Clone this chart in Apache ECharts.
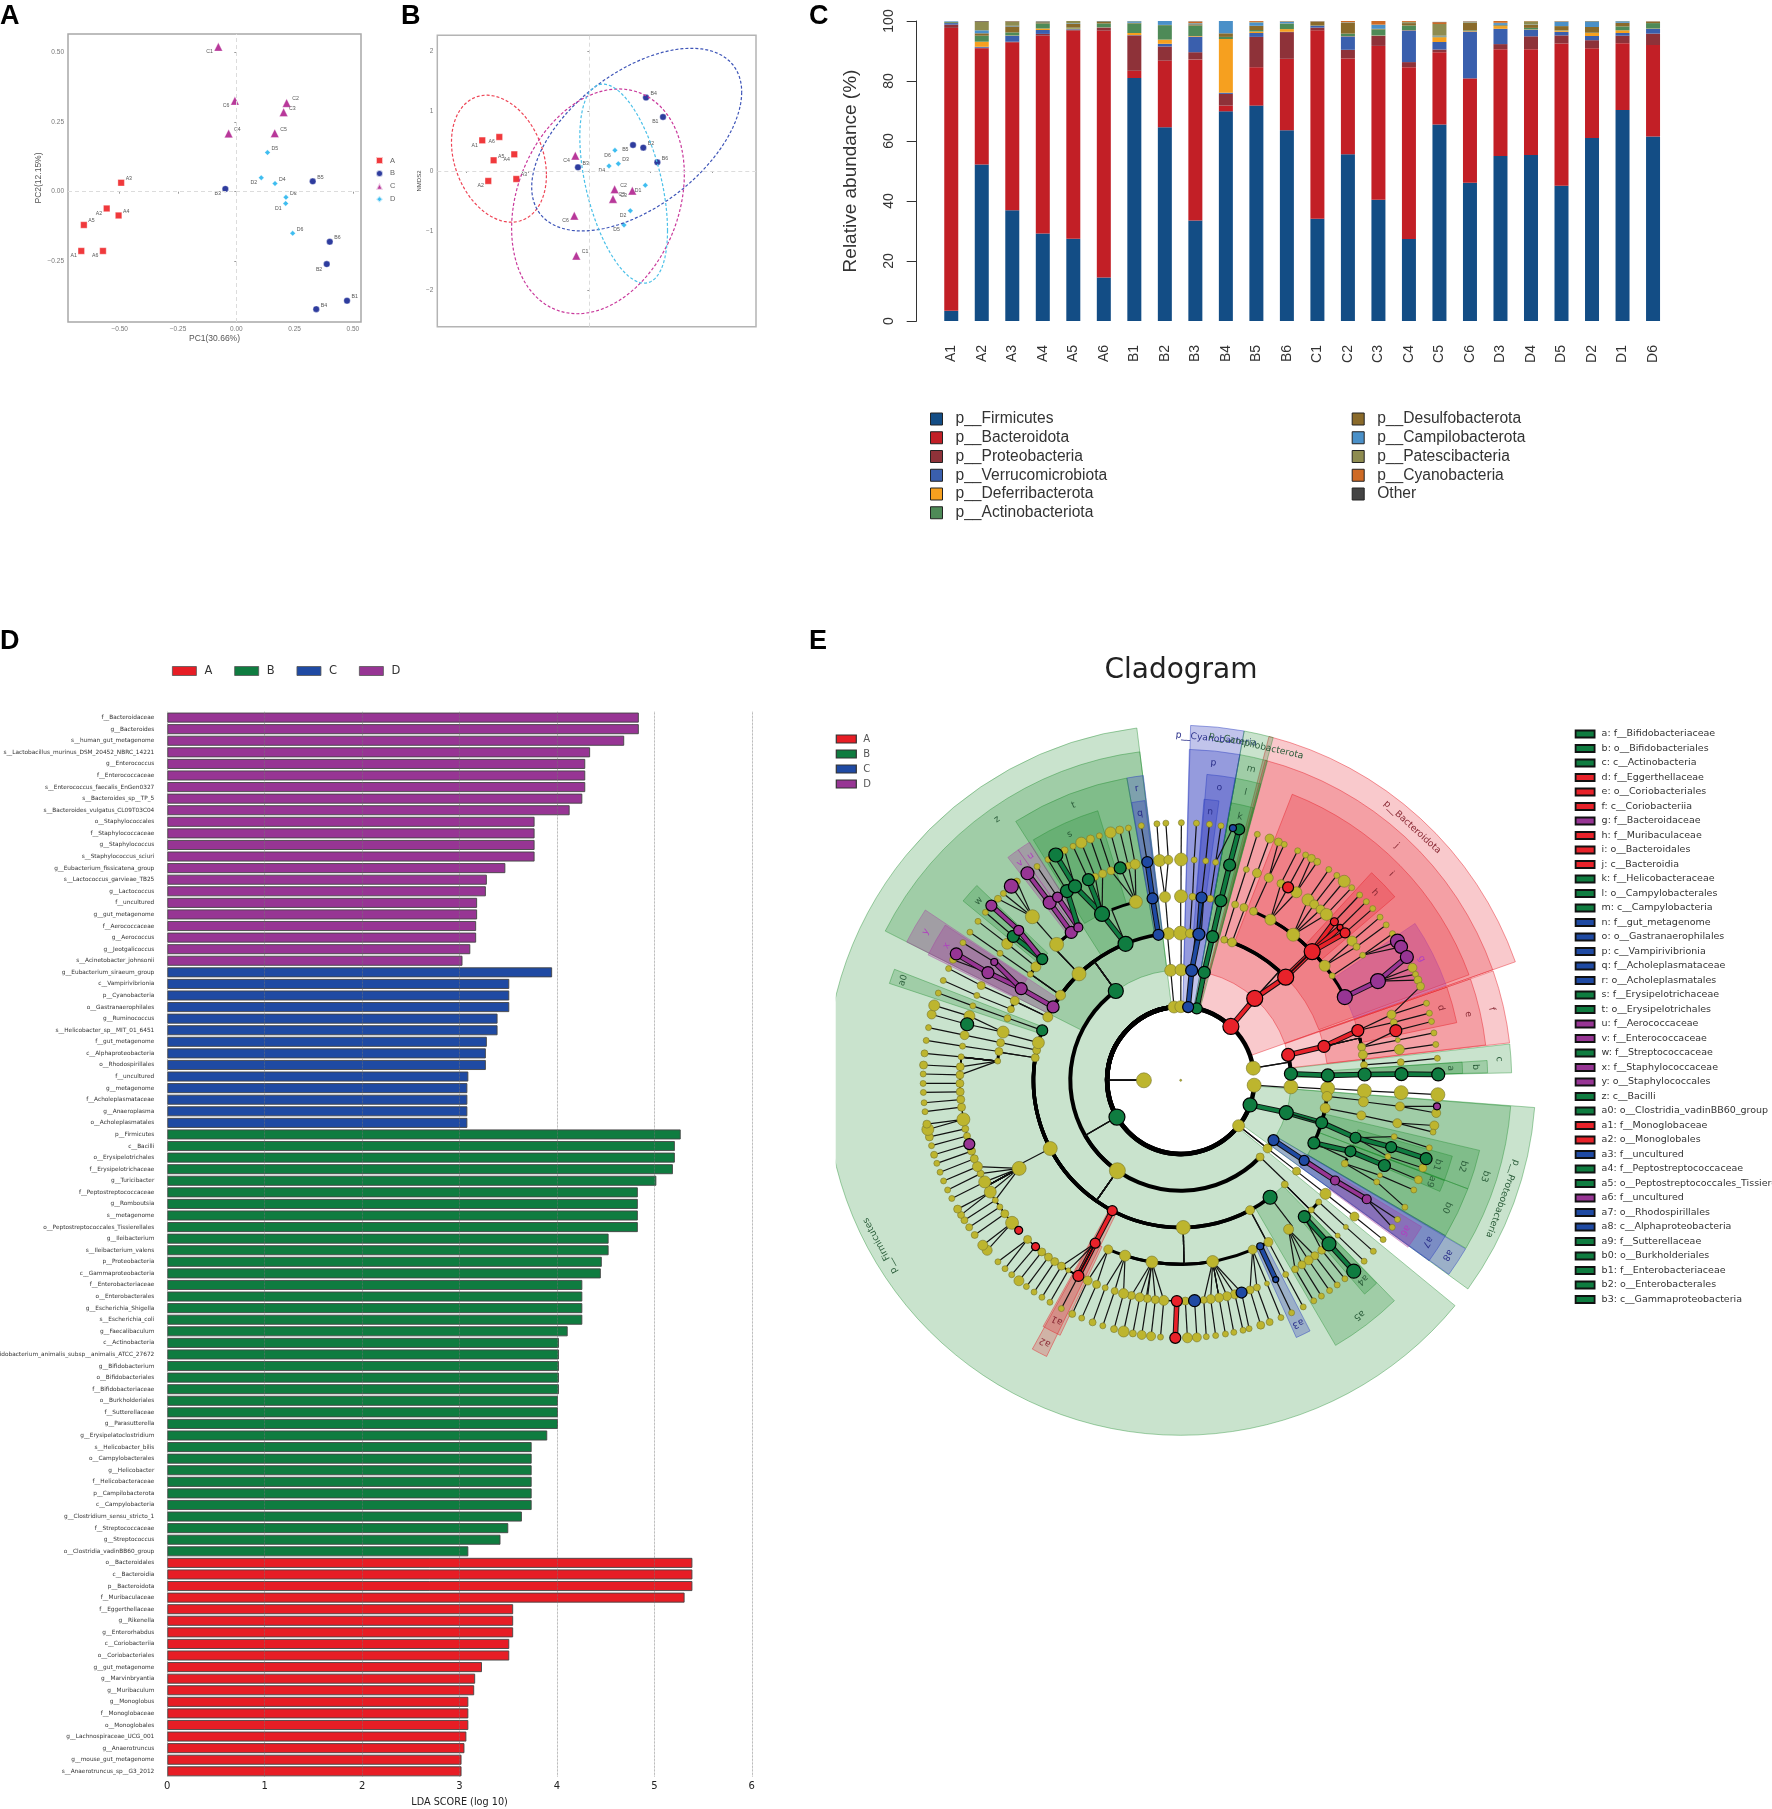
<!DOCTYPE html>
<html>
<head>
<meta charset="utf-8">
<title>Microbiome panels</title>
<script src="https://cdn.jsdelivr.net/npm/echarts@6/dist/echarts.min.js"></script>
<style>html,body{margin:0;padding:0;background:#fff}#chart{width:1772px;height:1809px}</style>
</head>
<body>
<div id="chart"></div>
<script>
// panel A, PCoA: [sample, PC1, PC2]
var pcoaA = [['A1',-.665,-.212],['A2',-.556,-.06],['A3',-.494,.032],['A4',-.505,-.085],['A5',-.654,-.119],['A6',-.572,-.212]];
var pcoaB = [['B1',.475,-.39],['B2',.388,-.259],['B3',-.047,.01],['B4',.343,-.42],['B5',.328,.037],['B6',.401,-.179]];
var pcoaC = [['C1',-.077,.518],['C2',.216,.317],['C3',.203,.284],['C4',-.033,.208],['C5',.165,.209],['C6',-.006,.325]];
var pcoaD = [['D1',.212,-.042],['D2',.107,.05],['D3',.213,-.02],['D4',.166,.029],['D5',.134,.14],['D6',.242,-.149]];
var pcoaLeftLabels = ['A1','A2','A6','B2','B3','C1','C6','D1','D2'];

// panel B, NMDS: [sample, NMDS1, NMDS2]
var nmdsA = [['A1',-1.745,.513],['A2',-1.647,-.167],['A3',-1.19,-.134],['A4',-1.223,.279],['A5',-1.56,.179],['A6',-1.467,.569]];
var nmdsB = [['B1',1.201,.904],['B2',.88,.391],['B3',-.185,.061],['B4',.924,1.228],['B5',.712,.435],['B6',1.109,.145]];
var nmdsC = [['C1',-.212,-1.417],['C2',.413,-.307],['C3',.701,-.329],['C4',-.228,.257],['C5',.386,-.469],['C6',-.245,-.748]];
var nmdsD = [['D1',.913,-.24],['D2',.668,-.664],['D3',.473,.123],['D4',.321,.084],['D5',.565,-.904],['D6',.418,.346]];
var nmdsLeftLabels = ['A1','A6','A4','A2','B1','B5','C4','C3','C6','D1','D2','D4','D5','D6'];
// ellipse: centre x, centre y, half width, half height, correlation
var ellipseA = [-1.473,.206,.774,1.063,-.26];
var ellipseB = [.772,.525,1.712,1.529,.52];
var ellipseC = [.141,-.508,1.408,1.881,.24];
var ellipseD = [.56,-.212,.715,1.666,-.47];

// panel C, relative abundance
var samples = ['A1','A2','A3','A4','A5','A6','B1','B2','B3','B4','B5','B6','C1','C2','C3','C4','C5','C6','D3','D4','D5','D2','D1','D6'];
var firmicutes = [3.4,52.2,36.9,29.2,27.4,14.5,81,64.6,33.5,69.9,71.8,63.6,34.1,55.6,40.4,27.3,65.5,46.1,55,55.3,45.1,61,70.3,61.5];
var bacteroidota = [94.3,38.7,56,65.9,69.4,82.3,2.4,22.2,53.7,1.9,12.8,23.8,62.8,31.9,51.3,57.3,24.1,34.7,35.6,35.3,47.4,29.9,22.3,30.5];
var proteobacteria = [1.1,.2,.2,.6,.3,1,11.8,4.7,2.4,3.9,10.1,8.9,.9,2.9,3.3,1.7,.9,.1,1.7,4.3,2.7,2.7,2.5,3.8];
var verrucomicrobiota = [.5,.3,2,1.3,.2,.05,.1,.9,5.2,.4,1.3,.1,.6,4.5,.1,10.6,2.5,15.6,5.1,2.2,1.2,1.4,.9,1.6];
var deferribacterota = [0,1.7,.1,.5,.2,.05,.7,1.4,.2,17.9,.5,.9,0,.1,.1,.1,1.6,.2,.9,.1,.4,1,.9,.1];
var actinobacteriota = [.3,2,1,1.7,.3,1.3,3.2,4.8,3.5,.7,.5,1.8,.1,.8,2,1.5,.2,.2,.2,.5,.1,.1,1.3,1.8];
var desulfobacterota = [.1,.8,2,.4,1.2,.7,.2,.1,.4,1.2,1.4,.1,1.3,3.6,.2,.8,.1,2.5,.2,1,1.4,1.9,1.2,.4];
var campilobacterota = [.2,1,.2,.2,.2,.1,.5,1.3,.3,4.1,1.1,.6,.1,.1,1.3,.1,.2,.1,.6,.1,1.5,1.8,.5,.1];
var patescibacteria = [0,2.8,1.4,.1,.8,.1,.1,0,.1,0,.2,.1,0,.1,.1,.3,3.9,.2,.1,1.1,.1,.1,.1,.1];
var cyanobacteria = [0,.1,.1,.05,.1,.1,0,0,.5,0,.4,.1,.1,.6,1.4,.5,.6,.1,.6,.1,.3,0,.1,.1];
var otherTaxa = [0,.2,.1,.1,.1,.1,0,0,.1,0,.1,.1,.1,.1,.1,.1,.1,.1,.1,.1,.1,.1,.1,.1];
var phylaNames = ['p__Firmicutes','p__Bacteroidota','p__Proteobacteria','p__Verrucomicrobiota','p__Deferribacterota','p__Actinobacteriota','p__Desulfobacterota','p__Campilobacterota','p__Patescibacteria','p__Cyanobacteria','Other'];
var phylaColors = ['#134d85','#c21f26','#8e3239','#3a5fad','#f6a01f','#4e8a57','#8a6a2a','#4a90c8','#8e8c50','#ce6a25','#444444'];
var phylaValues = [firmicutes,bacteroidota,proteobacteria,verrucomicrobiota,deferribacterota,actinobacteriota,desulfobacterota,campilobacterota,patescibacteria,cyanobacteria,otherTaxa];

// panel D, LDA scores
var ldaNamesD = ['f__Bacteroidaceae','g__Bacteroides','s__human_gut_metagenome','s__Lactobacillus_murinus_DSM_20452_NBRC_14221','g__Enterococcus','f__Enterococcaceae','s__Enterococcus_faecalis_EnGen0327','s__Bacteroides_sp__TP_5','s__Bacteroides_vulgatus_CL09T03C04','o__Staphylococcales','f__Staphylococcaceae','g__Staphylococcus','s__Staphylococcus_sciuri','g__Eubacterium_fissicatena_group','s__Lactococcus_garvieae_TB25','g__Lactococcus','f__uncultured','g__gut_metagenome','f__Aerococcaceae','g__Aerococcus','g__Jeotgalicoccus','s__Acinetobacter_johnsonii'];
var ldaScoresD = [4.84,4.84,4.69,4.34,4.29,4.29,4.29,4.26,4.13,3.77,3.77,3.77,3.77,3.47,3.28,3.27,3.18,3.18,3.17,3.17,3.11,3.03];
var ldaNamesC = ['g__Eubacterium_siraeum_group','c__Vampirivibrionia','p__Cyanobacteria','o__Gastranaerophilales','g__Ruminococcus','s__Helicobacter_sp__MIT_01_6451','f__gut_metagenome','c__Alphaproteobacteria','o__Rhodospirillales','f__uncultured','g__metagenome','f__Acholeplasmataceae','g__Anaeroplasma','o__Acholeplasmatales'];
var ldaScoresC = [3.95,3.51,3.51,3.51,3.39,3.39,3.28,3.27,3.27,3.09,3.08,3.08,3.08,3.08];
var ldaNamesB = ['p__Firmicutes','c__Bacilli','o__Erysipelotrichales','f__Erysipelotrichaceae','g__Turicibacter','f__Peptostreptococcaceae','g__Romboutsia','s__metagenome','o__Peptostreptococcales_Tissierellales','g__Ileibacterium','s__Ileibacterium_valens','p__Proteobacteria','c__Gammaproteobacteria','f__Enterobacteriaceae','o__Enterobacterales','g__Escherichia_Shigella','s__Escherichia_coli','g__Faecalibaculum','c__Actinobacteria','s__Bifidobacterium_animalis_subsp__animalis_ATCC_27672','g__Bifidobacterium','o__Bifidobacteriales','f__Bifidobacteriaceae','o__Burkholderiales','f__Sutterellaceae','g__Parasutterella','g__Erysipelatoclostridium','s__Helicobacter_bilis','o__Campylobacterales','g__Helicobacter','f__Helicobacteraceae','p__Campilobacterota','c__Campylobacteria','g__Clostridium_sensu_stricto_1','f__Streptococcaceae','g__Streptococcus','o__Clostridia_vadinBB60_group'];
var ldaScoresB = [5.27,5.21,5.21,5.19,5.02,4.83,4.83,4.83,4.83,4.53,4.53,4.46,4.45,4.26,4.26,4.26,4.26,4.11,4.02,4.02,4.02,4.02,4.02,4.01,4.01,4.01,3.9,3.74,3.74,3.74,3.74,3.74,3.74,3.64,3.5,3.42,3.09];
var ldaNamesA = ['o__Bacteroidales','c__Bacteroidia','p__Bacteroidota','f__Muribaculaceae','f__Eggerthellaceae','g__Rikenella','g__Enterorhabdus','c__Coriobacteriia','o__Coriobacteriales','g__gut_metagenome','g__Marvinbryantia','g__Muribaculum','g__Monoglobus','f__Monoglobaceae','o__Monoglobales','g__Lachnospiraceae_UCG_001','g__Anaerotruncus','g__mouse_gut_metagenome','s__Anaerotruncus_sp__G3_2012'];
var ldaScoresA = [5.39,5.39,5.39,5.31,3.55,3.55,3.55,3.51,3.51,3.23,3.16,3.15,3.09,3.09,3.09,3.07,3.05,3.02,3.02];

// panel E, cladogram legend and highlighted clades (angles clockwise from the top, degrees)
var cladeNames = ['a: f__Bifidobacteriaceae','b: o__Bifidobacteriales','c: c__Actinobacteria','d: f__Eggerthellaceae','e: o__Coriobacteriales','f: c__Coriobacteriia','g: f__Bacteroidaceae','h: f__Muribaculaceae','i: o__Bacteroidales','j: c__Bacteroidia','k: f__Helicobacteraceae','l: o__Campylobacterales','m: c__Campylobacteria','n: f__gut_metagenome','o: o__Gastranaerophilales','p: c__Vampirivibrionia','q: f__Acholeplasmataceae','r: o__Acholeplasmatales','s: f__Erysipelotrichaceae','t: o__Erysipelotrichales','u: f__Aerococcaceae','v: f__Enterococcaceae','w: f__Streptococcaceae','x: f__Staphylococcaceae','y: o__Staphylococcales','z: c__Bacilli','a0: o__Clostridia_vadinBB60_group','a1: f__Monoglobaceae','a2: o__Monoglobales','a3: f__uncultured','a4: f__Peptostreptococcaceae','a5: o__Peptostreptococcales_Tissierellales','a6: f__uncultured','a7: o__Rhodospirillales','a8: c__Alphaproteobacteria','a9: f__Sutterellaceae','b0: o__Burkholderiales','b1: f__Enterobacteriaceae','b2: o__Enterobacterales','b3: c__Gammaproteobacteria'];
var cladeGroups = 'g g g r r r p r r r g g g b b b b b g g p p g p p g g r r b g g p b b g g g g g'.split(' ');
var cladeStart = [86.3,86.3,83.7,70.7,70.7,70.7,56.2,42.6,21.3,14.8,10.3,10.3,10.3,4.75,4.9,1.5,350,349.9,328.5,327.5,324.8,322.2,309.5,296.4,296.8,296.8,288.4,205.3,205.9,152.7,136,135.9,121.3,120.4,120.6,110.8,110.7,105.6,103.2,94.5];
var cladeEnd = [88.6,88.6,88.7,78.2,83.4,83.5,70.3,49.4,69.9,70.5,15,15.1,15.2,7.8,10.2,10.3,352.7,353,342.9,349.9,327.6,324.8,313.7,303.4,303.7,352.9,291.2,209.2,208.9,155.8,139.3,149.7,126.3,126,125.9,113.2,120.4,110.8,110.7,120.5];
var phylumNames = ['p__Firmicutes','p__Bacteroidota','p__Proteobacteria','p__Cyanobacteria','p__Campilobacterota'];
var phylumGroups = ['g','r','g','b','g'];
var phylumStart = [129.4,14.4,94.4,1.6,10.3];
var phylumEnd = [352.9,70.5,126,10.3,15.1];

// tree nodes per level: [angle, diameter, group (default y), parent angle (default nearest)]
var level1 = [[270,15]];
var level2 = [[354.8,12],[.1,12],[5.8,11,'b'],[12.6,11,'g'],[43,16,'r'],[80.5,14],[93.8,14],[109.5,14,'g'],[128.1,12],[240,16,'g']];
var level3 = [[354.8,12],[.2,12],[5.7,12,'b'],[12.3,12,'g'],[42.1,16,'r'],[76.7,13,'r'],[86.6,13,'g'],[93.4,14],[107,14,'g'],[122.8,11,'b'],[128.1,9],[134,8,'',240],[215,16,'',240],[324,15,'g',240]];
var level4 = [[351.3,11,'b',324],[355.2,12],[0,14],[3.6,9],[7.1,12,'b'],[12.5,12,'g'],[17.2,7,'',42.1],[20.4,9,'',42.1],[45.5,16,'r'],[76.7,12,'r'],[88.1,13,'g'],[93.2,14],[96.3,10,'',107],[100.9,10,'',107],[106.7,12,'g'],[115.2,12,'g',107],[123,10,'b'],[128.1,8],[135,7,'',134],[142.6,14,'g',215],[151.9,9,'',215],[179,14,'',215],[207.7,10,'r',215],[242.4,14,'',215],[278.8,8,'',215],[281.8,8,'',215],[284.8,12,'',215],[289.8,11,'g',215],[295.5,10,'',324],[299.9,12,'p',324],[305.3,10,'',324],[316.3,14,'',324],[338,15,'g',324]];
var level5 = [[351.2,11,'b'],[355.1,11],[.1,13],[3.7,7],[6.5,11,'b'],[9.2,7,'',7.1],[12.6,12,'g'],[17.2,7],[20.1,8],[23.3,8,'',45.5],[29.2,11,'',45.5],[37.7,13,'',45.5],[45.6,16,'r'],[51.5,11,'',45.5],[55.4,6,'',45.5],[63.1,15,'p',45.5],[74.3,12,'r'],[79.6,8],[82,9],[85.2,7,'',76.7],[88.2,13,'g'],[93.3,14],[96.7,10],[101,9],[108.2,11,'g'],[112.7,11,'g'],[116.9,7],[123,9,'p'],[128.1,11],[131.4,6,'',135],[134.8,6],[137.8,12,'g'],[144.1,10],[151.5,9],[154.4,7,'b',151.9],[157,9,'',179],[170,12],[189,12],[197.6,11,'',179],[203.2,9,'',179],[207.7,10,'r'],[241.4,14],[276,6],[279,8],[281.8,8],[285.2,12],[289.7,7],[292.7,7],[295.6,9],[299.9,12,'p'],[305.2,6],[308.1,10],[311.2,11,'g',305.3],[317.6,14],[323.5,12,'p',316.3],[326.2,9,'p',316.3],[334.7,15,'g'],[345.9,13,'',338]];
var level6 = [[351.3,11,'b'],[354.5,12],[356.8,9],[.1,13],[3.5,6],[6.5,6],[9.1,6],[12.8,12,'g'],[17.3,6],[20.2,9],[23.5,9],[27,8],[29.1,11,'r'],[31.6,11],[35.2,12],[37.2,9],[39.3,9],[41.3,12],[44.1,8,'r'],[46.2,6,'r'],[48.1,10,'r'],[50.9,10],[52.8,7],[55.5,6],[63.3,15,'p'],[72.7,9],[74.8,7],[77,12,'r'],[79.5,5],[82,10],[85.3,7],[88.4,13,'g'],[93.2,14],[96.8,9],[101.2,9],[104.8,6],[107.6,11,'g'],[110.2,6],[112.7,12,'g'],[115.5,5],[117.4,6],[122.6,9,'p'],[128.1,9],[131.6,5],[134.7,5],[137.8,14,'g'],[140.3,8],[142.6,8],[144.6,9],[146.7,8],[148.8,7,'',144.1],[151.6,6],[154.5,6,'b'],[157,5],[159.8,7],[161.7,8],[164,11,'b'],[165.8,9],[167.9,9],[170,9],[172.2,9],[174,7],[176.4,12,'b'],[178.8,8],[181,11,'r'],[184.4,10],[186.6,8],[188.7,8],[190.7,9],[192.9,8],[195,10],[197.4,7],[200,6],[202.4,8],[204.9,9],[207.6,11,'r'],[210.6,5],[212.7,8],[214.8,8],[216.8,8],[219,8],[221.1,8,'r'],[223.9,8],[227.2,8,'r'],[229.8,13],[232.8,8],[235,6],[237.1,6],[239.6,12],[242.6,12],[245,7],[247,10],[249.2,8],[251.3,8],[253.2,11,'p'],[255.4,7],[257.3,7],[259.8,13],[263,8],[265,8],[267,8],[269.2,8],[271.4,8],[273.5,8],[276.1,6],[278.9,6],[281.8,9],[284.7,13,'g'],[286.9,11],[289.7,6],[292.6,6],[295.4,8],[299.2,12,'p'],[302.4,7,'p'],[305.1,6],[308.2,11],[310.7,12,'g'],[312.8,10,'p'],[317.8,14],[323.6,13,'p'],[326.1,10,'p'],[329,13,'g'],[331.4,13,'g'],[335.3,12,'g'],[337.2,7],[339.3,8],[341.6,8],[344.1,12,'g'],[346.3,7],[348.1,10]];
var level7 = [[351.2,6],[354.7,6],[356.7,6],[.15,6],[3.5,6],[6.4,6],[9,6],[11.7,7,'b',9.1],[13.1,11,'g'],[17.3,6],[20.2,9],[22.3,8],[23.7,6],[27,6],[29,6],[30.5,8],[32,7],[35.1,6],[37.3,6],[39.4,12],[41.6,6],[44,6],[46.1,6],[48.2,6],[50.7,6],[52.9,6],[55.3,6],[57.3,14,'p'],[58.8,13,'p'],[61.4,13,'p'],[64.1,9],[65.7,6],[67.1,8],[68.6,8],[72.6,6],[74.9,6],[76.8,6],[79.4,6],[82,6],[85.1,6],[88.7,13,'g'],[93.2,14],[95.8,7,'p'],[97.3,9],[100.1,9],[101.6,6],[105.2,6],[107.7,12,'g'],[109.9,8],[112.7,8],[115.2,6],[119.5,6],[122.7,6],[124.8,6],[128.2,6],[131.6,6],[134.6,6],[137.8,14,'g'],[140.4,6],[142.6,6],[144.7,6],[146.9,6],[148.9,6],[151.6,6],[154.5,6],[157.1,6],[159.8,7],[161.9,8],[164.6,6],[166,6],[168.1,6],[170,6],[172.2,6],[174.3,6],[176.4,9],[178.5,10],[181.2,11,'r'],[184.5,6],[186.6,9],[188.7,9],[190.7,7],[192.8,11],[195,7],[197.6,6],[200,7],[202.6,6],[204.9,7],[207.6,6],[210.5,6],[212.6,6],[214.7,6],[216.8,6],[218.9,10],[221,6],[223,6],[225.2,6],[228.7,10],[230.2,10],[233.1,7],[235.2,7],[237.1,7],[238.5,7],[240,8],[242.7,6],[244.8,6],[247,6],[249.1,6],[251.2,6],[253.2,7],[255.3,6],[257.3,8],[259,12],[260.2,8],[263,6],[265,6],[267.3,6],[269.3,6],[271.4,6],[273.4,8],[276,7],[278.9,6],[281.8,6],[284.8,9],[286.9,11],[289.8,6],[292.8,6],[295.7,6],[297.9,7],[299.4,12,'p'],[302.3,6],[305.1,6],[308.1,6],[310.7,6],[312.7,11,'p'],[314.8,7,'',317.8],[316.5,6],[318.9,14,'p'],[320.5,7,'',317.8],[323.5,13,'p'],[326.1,6],[329,6],[331,14,'g'],[333.2,7],[335.3,6],[337.3,11],[339.5,8],[341.6,6],[344.2,11],[346.3,8],[348.3,6]];

var sans = '"Liberation Sans", Arial, sans-serif';
var deja = '"DejaVu Sans", sans-serif';
var groupColor = {A:'#f0393c',B:'#2e3c9e',C:'#b8389a',D:'#3ebdf0'};
var ldaColor = {A:'#e71d25',B:'#0f7c40',C:'#1f4aa3',D:'#973594'};
var nodeColor = {y:'#bdb52e',r:'#e8222a',g:'#0f7c40',b:'#1f4aa3',p:'#973594'};
var wedgeColor = {r:'rgba(230,30,40,.24)',g:'rgba(30,140,45,.24)',b:'rgba(50,60,190,.3)',p:'rgba(165,50,160,.3)'};
var wedgeEdge = {r:'rgba(230,30,40,.45)',g:'rgba(30,140,45,.4)',b:'rgba(40,60,190,.45)',p:'rgba(165,50,160,.35)'};
var wedgeText = {r:'#8a2a35',g:'#2b5d3a',b:'#2a2f8a',p:'#b040c0'};
var ringRadius = [0,36.8,73.6,110.4,147.2,184,220.8,257.6];
var wedgeRange = {p:[73.6,355],c:[110.4,331],o:[147.2,307],f:[184,282]};
var wedgeOrder = {p:0,c:1,o:2,f:3};
var levels = [null,level1,level2,level3,level4,level5,level6,level7];

var series = [];

// scatter panels
function scatterSeries(name, rows, symbol, size, gridIdx, leftLabels, zero) {
    var s = {
        name: name, type: 'scatter', xAxisIndex: gridIdx, yAxisIndex: gridIdx,
        symbol: symbol, symbolSize: size,
        itemStyle: {color: groupColor[name], borderColor: 'rgba(255,255,255,.7)', borderWidth: .5, opacity: 1},
        data: rows.map(function (r) {
            var left = leftLabels.indexOf(r[0]) >= 0;
            return {
                value: [r[1], r[2]], name: r[0],
                label: {show: true, formatter: r[0], position: left ? 'left' : 'right', offset: [0, left ? 5 : -4], fontSize: 5.2, color: '#555', fontFamily: sans, distance: 1}
            };
        })
    };
    if (zero) {
        s.markLine = {silent: true, symbol: 'none', animation: false, label: {show: false},
            lineStyle: {type: [4, 3], color: '#dcdcdc', width: 1}, data: [{xAxis: 0}, {yAxis: 0}]};
    }
    return s;
}
series.push(scatterSeries('A', pcoaA, 'rect', 6.5, 0, pcoaLeftLabels, true));
series.push(scatterSeries('B', pcoaB, 'circle', 6.5, 0, pcoaLeftLabels));
series.push(scatterSeries('C', pcoaC, 'triangle', 8.5, 0, pcoaLeftLabels));
series.push(scatterSeries('D', pcoaD, 'diamond', 5.5, 0, pcoaLeftLabels));
series.push(scatterSeries('A', nmdsA, 'rect', 6.5, 1, nmdsLeftLabels, true));
series.push(scatterSeries('B', nmdsB, 'circle', 6.5, 1, nmdsLeftLabels));
series.push(scatterSeries('C', nmdsC, 'triangle', 8.5, 1, nmdsLeftLabels));
series.push(scatterSeries('D', nmdsD, 'diamond', 5.5, 1, nmdsLeftLabels));

// group ellipses of panel B
series.push({
    type: 'custom', name: 'ellipses', xAxisIndex: 1, yAxisIndex: 1, silent: true, z: 3,
    data: [ellipseA.concat(0), ellipseB.concat(1), ellipseC.concat(2), ellipseD.concat(3)],
    renderItem: function (params, api) {
        var cx = api.value(0), cy = api.value(1), w = api.value(2), h = api.value(3);
        var phi = Math.acos(api.value(4));
        var pts = [];
        for (var i = 0; i <= 90; i++) {
            var t = i / 90 * Math.PI * 2;
            pts.push(api.coord([cx + w * Math.cos(t), cy + h * Math.cos(t + phi)]));
        }
        return {type: 'polyline', shape: {points: pts}, style: {
            fill: 'none', stroke: ['#ee4455', '#3e55b8', '#c9389b', '#4bc0e8'][api.value(5)], lineWidth: 1.2, lineDash: [3, 2]}};
    }
});

// stacked bars of panel C
phylaNames.forEach(function (n, i) {
    series.push({name: n, type: 'bar', stack: 'abund', xAxisIndex: 2, yAxisIndex: 2, barWidth: 14,
        itemStyle: {color: phylaColors[i]}, data: phylaValues[i]});
});

// LDA bars of panel D
var ldaCats = ldaNamesD.concat(ldaNamesC, ldaNamesB, ldaNamesA);
var ldaGroups = [['D', ldaScoresD], ['C', ldaScoresC], ['B', ldaScoresB], ['A', ldaScoresA]];
var ldaOffset = 0;
ldaGroups.forEach(function (g) {
    var vals = ldaCats.map(function () { return '-'; });
    g[1].forEach(function (v, i) { vals[ldaOffset + i] = v; });
    ldaOffset += g[1].length;
    series.push({name: g[0], type: 'bar', stack: 'lda', xAxisIndex: 3, yAxisIndex: 3, barWidth: 10,
        itemStyle: {color: ldaColor[g[0]], borderColor: '#444', borderWidth: .9}, data: vals, z: 2});
});

// clade wedges of panel E
function wedgeRender(params, api) {
    var c = api.coord([0, 0]), inner = api.value(0), outer = api.value(1), a0 = api.value(2), a1 = api.value(3);
    var w = cladeWedges[params.seriesIndex - wedgeBase], g = w.group;
    var mid = (a0 + a1) / 2, lp = api.coord([outer - 12, mid]);
    var po = api.coord([outer, 0]), pi = api.coord([inner, 0]);
    return {type: 'group', children: [
        {type: 'sector', shape: {cx: c[0], cy: c[1], r: Math.abs(c[1] - po[1]), r0: Math.abs(c[1] - pi[1]),
            startAngle: (a0 - 90) * Math.PI / 180, endAngle: (a1 - 90) * Math.PI / 180, clockwise: true},
            style: {fill: wedgeColor[g], stroke: wedgeEdge[g], lineWidth: 1}},
        {type: 'text', x: lp[0], y: lp[1], rotation: -mid * Math.PI / 180,
            style: {text: w.label, fill: wedgeText[g], fontSize: 9.2, fontFamily: deja, align: 'center', verticalAlign: 'middle'}}
    ]};
}
var cladeWedges = [];
phylumNames.forEach(function (n, i) {
    cladeWedges.push({name: n, label: n, group: phylumGroups[i], rank: 'p', start: phylumStart[i], end: phylumEnd[i]});
});
cladeNames.forEach(function (n, i) {
    var parts = n.split(': ');
    cladeWedges.push({name: n, label: parts[0], group: cladeGroups[i], rank: parts[1].charAt(0), start: cladeStart[i], end: cladeEnd[i]});
});
cladeWedges.sort(function (a, b) { return wedgeOrder[a.rank] - wedgeOrder[b.rank]; });
var wedgeBase = series.length;
cladeWedges.forEach(function (w) {
    var range = wedgeRange[w.rank];
    series.push({name: w.name, type: 'custom', coordinateSystem: 'polar', silent: true, clip: false, z: 3,
        encode: {radius: 0, angle: 2}, data: [[range[0], range[1], w.start, w.end]], renderItem: wedgeRender});
});

// tree edges, parent taken as nearest node one ring inwards unless the node names one
function angDiff(a, b) { return ((b - a + 540) % 360) - 180; }
function findParent(node, lvl) {
    var list = levels[lvl - 1], want = node[3] !== undefined ? node[3] : node[0], best = list[0], bd = 999;
    list.forEach(function (p) {
        var d = Math.abs(angDiff(p[0], want));
        if (d < bd) { bd = d; best = p; }
    });
    return best;
}
var edgeRows = [];
var arcWidth = [0, 0, 4.5, 4, 3.5, 3, 1.4, 1.2];
for (var lv = 2; lv <= 7; lv++) {
    levels[lv].forEach(function (n) {
        var p = findParent(n, lv), d = angDiff(p[0], n[0]);
        var coloured = n[2] && p[2] && Math.abs(d) < 6.5 ? Object.keys(nodeColor).indexOf(n[2]) : -1;
        var straight = coloured >= 0 || lv === 7 || (lv === 6 && Math.abs(d) <= 6);
        edgeRows.push([ringRadius[lv - 1], p[0], ringRadius[lv], n[0], lv, coloured, straight ? 1 : 0]);
    });
}
series.push({
    type: 'custom', name: 'tree edges', coordinateSystem: 'polar', silent: true, clip: false, z: 4,
    encode: {radius: 0, angle: 1}, data: edgeRows,
    renderItem: function (params, api) {
        var rp = api.value(0), ap = api.value(1), rc = api.value(2), ac = api.value(3), lv = api.value(4), col = api.value(5), straight = api.value(6);
        var c = api.coord([0, 0]), a = api.coord([rp, ap]), b = api.coord([rc, ac]);
        var kids = [];
        if (col >= 0) {
            var fill = nodeColor[Object.keys(nodeColor)[col]];
            kids.push({type: 'line', shape: {x1: a[0], y1: a[1], x2: b[0], y2: b[1]}, style: {stroke: '#111', lineWidth: 5.6}});
            kids.push({type: 'line', shape: {x1: a[0], y1: a[1], x2: b[0], y2: b[1]}, style: {stroke: fill, lineWidth: 3.6}});
        } else if (straight) {
            kids.push({type: 'line', shape: {x1: a[0], y1: a[1], x2: b[0], y2: b[1]}, style: {stroke: '#111', lineWidth: 1.2}});
        } else {
            var e = api.coord([rc, ap]), d = angDiff(ap, ac);
            var r = Math.abs(c[1] - api.coord([rc, 0])[1]);
            var s = d >= 0 ? ap : ap + d, t = d >= 0 ? ap + d : ap;
            kids.push({type: 'line', shape: {x1: a[0], y1: a[1], x2: e[0], y2: e[1]}, style: {stroke: '#111', lineWidth: 1.2}});
            kids.push({type: 'arc', shape: {cx: c[0], cy: c[1], r: r, startAngle: (s - 90) * Math.PI / 180, endAngle: (t - 90) * Math.PI / 180, clockwise: true},
                style: {fill: 'none', stroke: '#000', lineWidth: arcWidth[lv]}});
        }
        return {type: 'group', children: kids};
    }
});

// tree nodes, one scatter per group
['y', 'g', 'r', 'b', 'p'].forEach(function (key) {
    var rows = [];
    for (var lv = 1; lv <= 7; lv++) {
        levels[lv].forEach(function (n) {
            if ((n[2] || 'y') === key) rows.push([ringRadius[lv], n[0], n[1]]);
        });
    }
    if (key === 'y') rows.push([0, 0, 2]);
    series.push({
        type: 'scatter', name: 'nodes ' + key, coordinateSystem: 'polar', silent: true, z: 5, clip: false,
        symbolSize: function (v) { return v[2]; },
        itemStyle: {color: nodeColor[key], borderColor: key === 'y' ? '#77762c' : '#000', borderWidth: key === 'y' ? .6 : 1.2, opacity: 1},
        data: rows
    });
});

var pcoaXTicks = [-.5, -.25, 0, .25, .5];
var pcoaYTicks = [-.25, 0, .25, .5];
var nmdsXTicks = [-2, -1, 0, 1, 2];
var nmdsYTicks = [-2, -1, 0, 1, 2];
function fmt2(v) { return v.toFixed(2).replace('-', '\u2212'); }
function fmt0(v) { return String(v).replace('-', '\u2212'); }
var grayAxisLine = {show: false};
function lightLabel(f) { return {fontSize: 6.5, color: '#777', fontFamily: sans, margin: 4, formatter: f}; }

var option = {
    animation: false,
    backgroundColor: '#fff',
    title: [
        {text: 'A', left: 0, top: 3},
        {text: 'B', left: 401, top: 3},
        {text: 'C', left: 809, top: 3},
        {text: 'D', left: 0, top: 628},
        {text: 'E', left: 809, top: 628},
        {text: 'Cladogram', left: 1181, top: 657, textAlign: 'center', textStyle: {fontFamily: deja, fontWeight: 'normal', fontSize: 28, color: '#222'}}
    ].map(function (t) {
        t.padding = 0;
        t.textStyle = t.textStyle || {fontFamily: sans, fontWeight: 'bold', fontSize: 27, color: '#000'};
        return t;
    }),
    grid: [
        {left: 68, top: 34, width: 293, height: 288, show: true, borderColor: '#a8a8a8', borderWidth: 1.5, outerBoundsMode: 'none'},
        {left: 437.3, top: 35.3, width: 318.7, height: 291.4, show: true, borderColor: '#b4b4b4', borderWidth: 1.5, outerBoundsMode: 'none'},
        {left: 936, top: 21, width: 732.3, height: 300, outerBoundsMode: 'none'},
        {left: 167.3, top: 711.8, width: 584.5, height: 1065.3, outerBoundsMode: 'none'}
    ],
    xAxis: [
        {gridIndex: 0, type: 'value', min: -.722, max: .535, name: 'PC1(30.66%)', nameLocation: 'middle', nameGap: 10.5,
            nameTextStyle: {fontSize: 8.5, color: '#555', fontFamily: sans},
            axisLine: grayAxisLine, splitLine: {show: false}, axisTick: {customValues: pcoaXTicks, length: 2, lineStyle: {color: '#999'}},
            axisLabel: Object.assign(lightLabel(fmt2), {customValues: pcoaXTicks})},
        {gridIndex: 1, type: 'value', min: -2.478, max: 2.717,
            axisLine: grayAxisLine, splitLine: {show: false}, axisTick: {customValues: nmdsXTicks, length: 2, lineStyle: {color: '#999'}},
            axisLabel: {show: false}},
        {gridIndex: 2, type: 'category', data: samples, axisLine: {show: false}, axisTick: {show: false},
            axisLabel: {rotate: 90, margin: 24, fontSize: 14, color: '#333', fontFamily: sans, interval: 0}},
        {gridIndex: 3, type: 'value', min: 0, max: 6, interval: 1, offset: .7, z: 3, name: 'LDA SCORE (log 10)', nameLocation: 'middle', nameGap: 20,
            nameTextStyle: {fontSize: 9.7, color: '#222', fontFamily: deja},
            axisLine: {show: false}, axisTick: {length: 5, lineStyle: {color: '#555', width: .7}},
            splitLine: {show: true, lineStyle: {type: 'dotted', color: '#777', width: .7}},
            axisLabel: {fontSize: 10, color: '#222', fontFamily: deja, margin: 4}},
        {gridIndex: 3, type: 'value', position: 'top', min: 0, max: 6, interval: 1, offset: 8.8,
            axisLine: {show: false}, axisTick: {inside: true, length: 4, lineStyle: {color: '#555', width: .7}},
            splitLine: {show: false}, axisLabel: {show: false}}
    ],
    yAxis: [
        {gridIndex: 0, type: 'value', min: -.466, max: .564, name: 'PC2(12.15%)', nameLocation: 'middle', nameGap: 21,
            nameTextStyle: {fontSize: 8.5, color: '#555', fontFamily: sans},
            axisLine: grayAxisLine, splitLine: {show: false}, axisTick: {customValues: pcoaYTicks, length: 2, lineStyle: {color: '#999'}},
            axisLabel: Object.assign(lightLabel(fmt2), {customValues: pcoaYTicks})},
        {gridIndex: 1, type: 'value', min: -2.606, max: 2.271, name: 'NMDS2', nameLocation: 'middle', nameGap: 14,
            nameTextStyle: {fontSize: 6, color: '#444', fontFamily: sans},
            axisLine: grayAxisLine, splitLine: {show: false}, axisTick: {customValues: nmdsYTicks, length: 2, lineStyle: {color: '#999'}},
            axisLabel: Object.assign(lightLabel(fmt0), {customValues: nmdsYTicks})},
        {gridIndex: 2, type: 'value', min: 0, max: 100, interval: 20, offset: 19.3, name: 'Relative abundance (%)', nameLocation: 'middle', nameGap: 56,
            nameTextStyle: {fontSize: 19, color: '#333', fontFamily: sans},
            axisLine: {show: true, lineStyle: {color: '#333', width: 1}}, axisTick: {show: true, length: 10, lineStyle: {color: '#333'}},
            splitLine: {show: false},
            axisLabel: {rotate: 90, fontSize: 14, color: '#333', fontFamily: sans, margin: 20.6}},
        {gridIndex: 3, type: 'category', inverse: true, data: ldaCats, axisLine: {show: false}, axisTick: {show: false},
            axisLabel: {interval: 0, fontSize: 5.8, color: '#333', fontFamily: deja, margin: 13}}
    ],
    polar: {center: [1180.7, 1080.3], radius: [0, 355]},
    angleAxis: {type: 'value', min: 0, max: 360, startAngle: 90, clockwise: true, show: false},
    radiusAxis: {type: 'value', min: 0, max: 355, show: false},
    legend: [
        {orient: 'vertical', left: 375, top: 156, itemWidth: 7, itemHeight: 7, itemGap: 3.9, selectedMode: false, padding: 0,
            textStyle: {fontSize: 7.5, color: '#666', fontFamily: sans, padding: [0, 0, 0, 2]},
            data: [
                {name: 'A', icon: 'rect', itemStyle: {color: groupColor.A}},
                {name: 'B', icon: 'circle', itemStyle: {color: groupColor.B}},
                {name: 'C', icon: 'triangle', itemStyle: {color: groupColor.C}},
                {name: 'D', icon: 'diamond', itemStyle: {color: groupColor.D}}
            ]},
        {orient: 'vertical', left: 930, top: 411, itemWidth: 12, itemHeight: 12, itemGap: 2.75, selectedMode: false, padding: 0,
            textStyle: {fontSize: 15.6, color: '#333', fontFamily: sans, padding: [0, 0, 0, 8]},
            data: phylaNames.slice(0, 6).map(function (n, i) {
                return {name: n, icon: 'rect', itemStyle: {color: phylaColors[i], borderColor: '#222', borderWidth: 1}};
            })},
        {orient: 'vertical', left: 1351.7, top: 411, itemWidth: 12, itemHeight: 12, itemGap: 2.75, selectedMode: false, padding: 0,
            textStyle: {fontSize: 15.6, color: '#333', fontFamily: sans, padding: [0, 0, 0, 8]},
            data: phylaNames.slice(6).map(function (n, i) {
                return {name: n, icon: 'rect', itemStyle: {color: phylaColors[i + 6], borderColor: '#222', borderWidth: 1}};
            })},
        {orient: 'horizontal', left: 172, top: 665, itemWidth: 24, itemHeight: 9, itemGap: 22, selectedMode: false, padding: 0,
            textStyle: {fontSize: 11.5, color: '#333', fontFamily: deja, padding: [0, 0, 0, 3]},
            data: ['A', 'B', 'C', 'D'].map(function (n) {
                return {name: n, icon: 'rect', itemStyle: {color: ldaColor[n], borderColor: '#555', borderWidth: .8}};
            })},
        {orient: 'vertical', left: 835.7, top: 734, itemWidth: 20, itemHeight: 8, itemGap: 5, selectedMode: false, padding: 0,
            textStyle: {fontSize: 10, color: '#555', fontFamily: deja, padding: [0, 0, 0, 2]},
            data: ['A', 'B', 'C', 'D'].map(function (n) {
                return {name: n, icon: 'rect', itemStyle: {color: ldaColor[n], borderColor: '#333', borderWidth: 1.2}};
            })},
        {orient: 'vertical', left: 1574.7, top: 729, itemWidth: 19, itemHeight: 7, itemGap: 4.5, selectedMode: false, padding: 0,
            textStyle: {fontSize: 9.5, color: '#333', fontFamily: deja, padding: [0, 0, 0, 2]},
            data: cladeNames.map(function (n, i) {
                return {name: n, icon: 'rect', itemStyle: {color: nodeColor[cladeGroups[i]], borderColor: '#111', borderWidth: 1.8}};
            })}
    ],
    // the reference crops the widest wedge at its axes edge
    graphic: [{type: 'rect', z: 100, silent: true, shape: {x: 815, y: 930, width: 20.7, height: 320}, style: {fill: '#fff'}}],
    series: series
};

var myChart = echarts.init(document.getElementById('chart'));
myChart.setOption(option, true);
</script>
</body>
</html>
